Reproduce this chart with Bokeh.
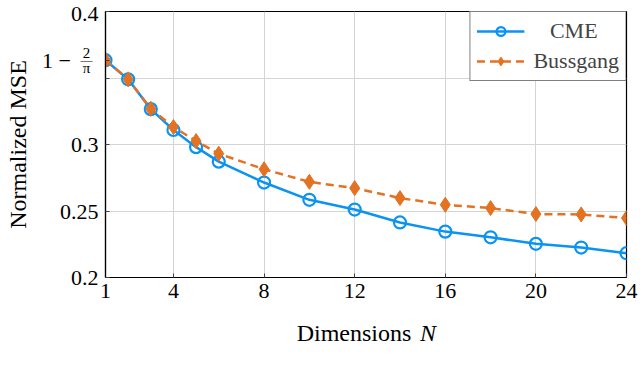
import numpy as np
from bokeh.plotting import figure
from bokeh.models import Range1d, FixedTicker, ColumnDataSource
from bokeh.embed import file_html
from bokeh.resources import INLINE
from bokeh.core.properties import value

# ---- data ----
dims = [1, 2, 3, 4, 5, 6, 8, 10, 12, 14, 16, 18, 20, 22, 24]
cme = [0.3634, 0.349, 0.3266, 0.3109, 0.298, 0.2871, 0.2714, 0.2584,
       0.2511, 0.2414, 0.2345, 0.2302, 0.2253, 0.2225, 0.2183]
bussgang = [0.3634, 0.349, 0.3268, 0.3131, 0.3026, 0.2931, 0.2814, 0.2719,
            0.2672, 0.2597, 0.2547, 0.2522, 0.2477, 0.2474, 0.2447]
x_ticks = [1, 4, 8, 12, 16, 20, 24]
special_tick = 1 - 2 / np.pi
y_ticks = [0.2, 0.25, 0.3, 0.35, special_tick, 0.4]
y_tick_labels = ["0.2", "0.25", "0.3", "", "1 \u2212\u00a0\u00a0\u00a0\u00a0\u00a0", "0.4"]
frac_parts = ["2", "\u2014", "\u03c0"]
x_label_main = "Dimensions"
x_label_var = "N"

BLUE = "#0a93f2"
ORANGE = "#e37222"
FONT = "Liberation Serif"

p = figure(width=640, height=373, output_backend="svg", toolbar_location=None,
           x_range=Range1d(x_ticks[0], x_ticks[-1]), y_range=Range1d(0.2, 0.4),
           min_border_left=105, min_border_right=14, min_border_top=11,
           min_border_bottom=96)

p.outline_line_color = "black"
p.outline_line_width = 1.2
p.outline_line_alpha = 1

# axes
for ax in (p.xaxis[0], p.yaxis[0]):
    ax.axis_line_color = "black"
    ax.axis_line_width = 1.2
    ax.major_tick_in = 4
    ax.major_tick_out = 0
    ax.major_tick_line_color = "#444444"
    ax.minor_tick_line_color = None
    ax.major_label_text_font = FONT
    ax.major_label_text_font_size = "22px"
    ax.major_label_text_color = "black"
    ax.axis_label_text_font = FONT
    ax.axis_label_text_font_size = "24px"
    ax.axis_label_text_font_style = "normal"
    ax.axis_label_text_color = "black"

p.xaxis[0].ticker = FixedTicker(ticks=x_ticks)
p.xaxis[0].major_label_standoff = 6
# room is left after "Dimensions" for the italic N drawn below
p.xaxis[0].axis_label = x_label_main + "\u00a0" * 4
p.xaxis[0].axis_label_standoff = 19

p.yaxis[0].ticker = FixedTicker(ticks=y_ticks)
p.yaxis[0].major_label_overrides = {t: s for t, s in zip(y_ticks, y_tick_labels)}
p.yaxis[0].major_label_standoff = 7
p.yaxis[0].axis_label = "Normalized MSE"
p.yaxis[0].axis_label_standoff = 8

# grids
grid_y = [t for t in y_ticks if t != special_tick]
p.xgrid[0].ticker = FixedTicker(ticks=x_ticks)
p.ygrid[0].ticker = FixedTicker(ticks=grid_y)
for g in (p.xgrid[0], p.ygrid[0]):
    g.grid_line_color = "#d4d4d4"
    g.grid_line_width = 1

# series
p.line(dims, cme, color=BLUE, line_width=2.5, legend_label="\u00a0\u00a0\u00a0CME")
p.scatter(dims, cme, marker="circle", size=12, line_color=BLUE, line_width=2.2,
          fill_color=None, legend_label="\u00a0\u00a0\u00a0CME")
p.line(dims, bussgang, color=ORANGE, line_width=2.5, line_dash="8 5",
       legend_label="Bussgang")
p.scatter(dims, bussgang, marker="diamond", size=15, line_color=ORANGE,
          fill_color=ORANGE, legend_label="Bussgang")

# fraction 2/pi next to the special tick label (overlay level: not clipped)
frac_src = ColumnDataSource(dict(
    x=[x_ticks[0]] * 3, y=[special_tick] * 3, t=frac_parts,
    yo=[-7, 0, 8], fs=["15px", "12px", "15px"]))
p.text(x="x", y="y", text="t", source=frac_src, x_offset=-19, y_offset="yo",
       text_font=value(FONT), text_font_size="fs", text_align="center",
       text_baseline="middle", text_color="black", level="overlay")

# italic N of the x axis label
xc = (x_ticks[0] + x_ticks[-1]) / 2
nsrc = ColumnDataSource(dict(x=[xc], y=[0.2], t=[x_label_var]))
p.text(x="x", y="y", text="t", source=nsrc, x_offset=54, y_offset=55,
       text_font=value(FONT), text_font_size="24px", text_font_style="italic",
       text_align="left", text_baseline="alphabetic", text_color="black",
       level="overlay")

# legend
lg = p.legend[0]
lg.location = "top_right"
lg.margin = 0
lg.border_line_color = "black"
lg.border_line_width = 1.2
lg.background_fill_color = "white"
lg.background_fill_alpha = 1
lg.label_text_font = FONT
lg.label_text_font_size = "22px"
lg.glyph_width = 48
lg.glyph_height = 22
lg.label_height = 22
lg.spacing = 4
lg.padding = 6
lg.label_standoff = 9

open("out.html", "w").write(file_html(p, INLINE))
